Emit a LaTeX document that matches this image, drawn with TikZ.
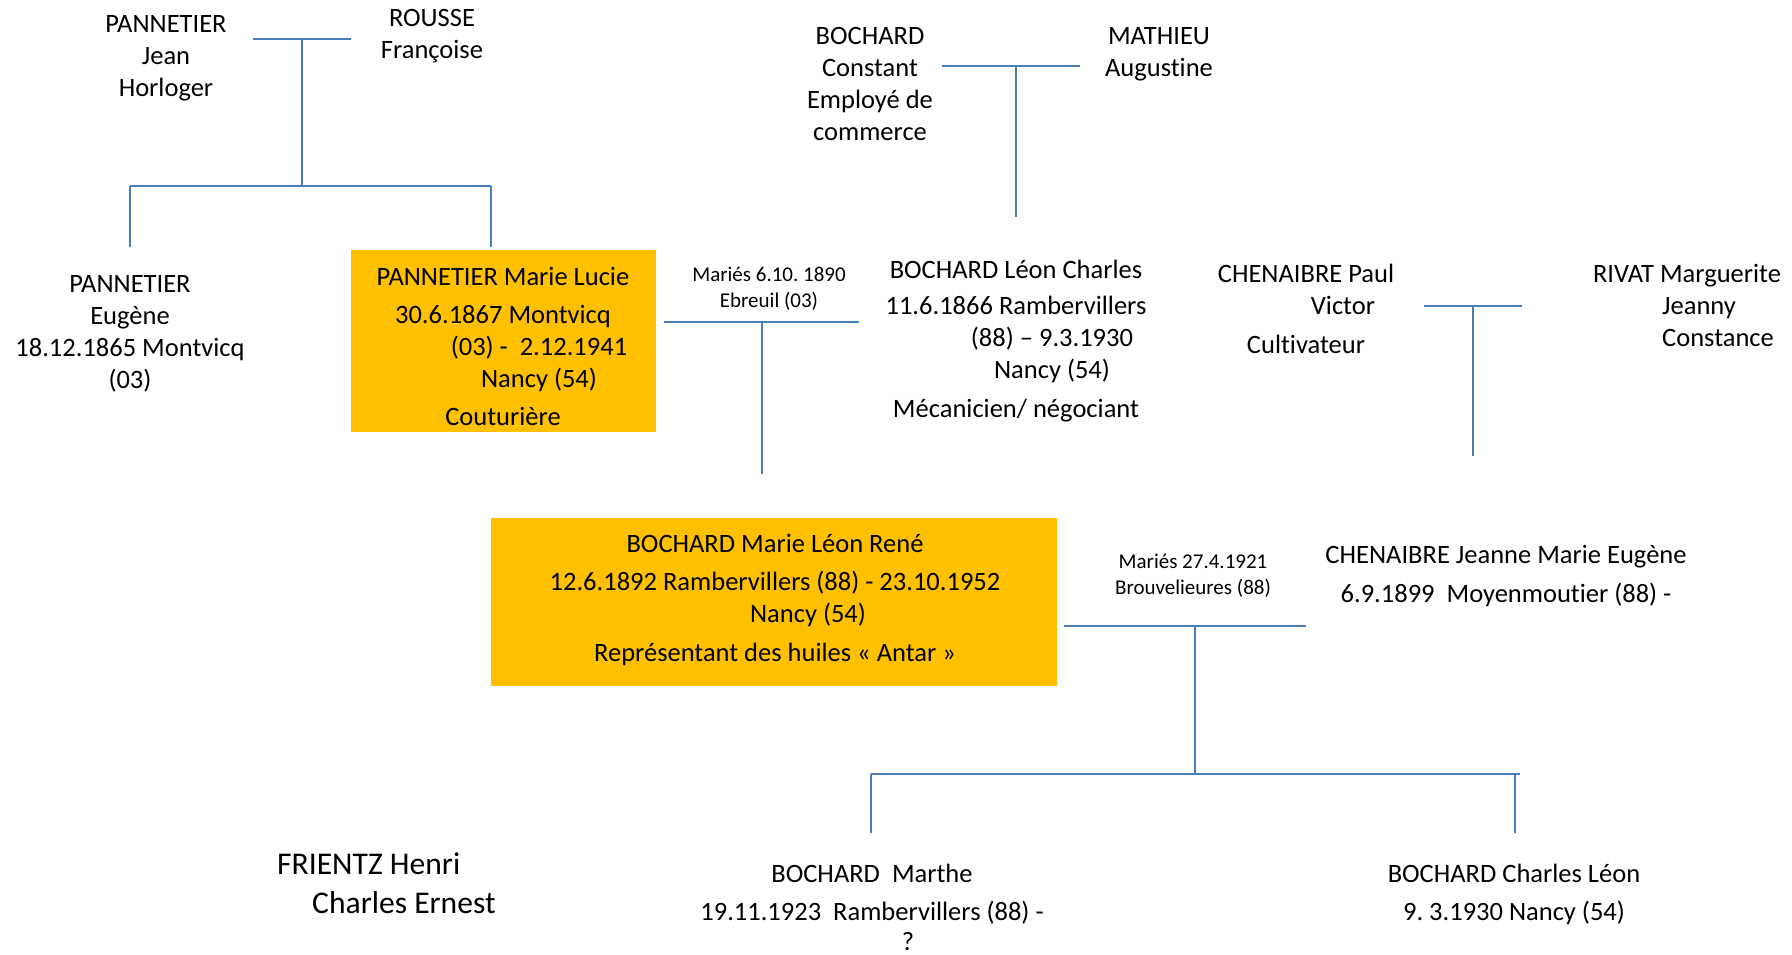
\documentclass[tikz,border=0pt]{standalone}
\usepackage{fontspec}
\setmainfont{Carlito}[Ligatures=NoCommon]
\definecolor{lienbleu}{RGB}{74,126,187}
\definecolor{boiteor}{RGB}{255,192,0}
\usetikzlibrary{positioning}

\begin{document}
\frenchspacing
\begin{tikzpicture}[x=1pt,y=-1pt,
          personne/.style={align=center,inner sep=0pt,anchor=north,font=\fontsize{26.5}{32}\selectfont},
          noce/.style={align=center,inner sep=0pt,anchor=north,font=\fontsize{21}{26}\selectfont},
          cadre/.style={fill=boiteor,draw=none,inner sep=0pt},
          lien/.style={draw=lienbleu,line width=2pt},
          fratrie/.style={draw=lienbleu,line width=2.6pt}]
        \fill[white] (0,0) rectangle (1792,954);
        \useasboundingbox (0,0) rectangle (1792,954);

        % cadres des ancetres directs
        \node[cadre,minimum width=305pt,minimum height=182pt] (cadrelucie) at (503.5,341) {};
        \node[cadre,minimum width=566pt,minimum height=168pt] (cadrerene) at (774,602) {};

        % generation des grands-parents
        \node[personne] (jean) at (166,15.5) {PANNETIER\\Jean\\Horloger};
        \node[personne] (rousse) at (432,9.5) {ROUSSE\\Françoise};
        \node[personne] (constant) at (870,27.5) {BOCHARD\\Constant\\Employé de\\commerce};
        \node[personne] (mathieu) at (1159,27.5) {MATHIEU\\Augustine};

        % generation des parents
        \node[personne] (eugene) at (130,275.5) {PANNETIER\\Eugène\\18.12.1865 Montvicq\\(03)};
        \node[personne] (lucie) at (503,267) {PANNETIER Marie Lucie\\[6pt]30.6.1867 Montvicq\\\hspace*{72pt}(03) -~ 2.12.1941\\\hspace*{72pt}Nancy (54)\\[6pt]Couturière};
        \node[noce] (noce1) at (769,267) {Mariés 6.10. 1890\\Ebreuil (03)};
        \node[personne] (leon) at (1016,260) {BOCHARD Léon Charles\\[4pt]11.6.1866 Rambervillers\\\hspace*{72pt}(88) – 9.3.1930\\\hspace*{72pt}Nancy (54)\\[7pt]Mécanicien/ négociant};
        \node[personne] (paul) at (1306,264) {CHENAIBRE Paul\\\hspace*{74pt}Victor\\[7pt]Cultivateur};
        \node[personne] (rivat) at (1687,264) {RIVAT Marguerite\\\hspace*{24pt}Jeanny\\\hspace*{62pt}Constance};

        % couple central
        \node[personne] (rene) at (775,534) {BOCHARD Marie Léon René\\[6pt]12.6.1892 Rambervillers (88) - 23.10.1952\\\hspace*{66pt}Nancy (54)\\[7pt]Représentant des huiles « Antar »};
        \node[noce] (noce2) at (1193,554) {Mariés 27.4.1921\\Brouvelieures (88)};
        \node[personne] (jeanne) at (1506,545) {CHENAIBRE Jeanne Marie Eugène\\[7pt]6.9.1899~ Moyenmoutier (88) -};

        % enfants
        \node[personne,anchor=north west,align=left,font=\fontsize{31.6}{39}\selectfont] (frientz) at (277,853) {FRIENTZ Henri\\\hspace*{35pt}Charles Ernest};
        \node[personne] (marthe) at (872,864) {BOCHARD~ Marthe\\[6pt]19.11.1923~ Rambervillers (88) -\\[-2pt]\hspace*{72pt}?};
        \node[personne] (charles) at (1514,864) {BOCHARD Charles Léon\\[6pt]9. 3.1930 Nancy (54)};

        % points des traits
        \coordinate (jeanrousseG) at (253,39);
        \coordinate (jeanrousseD) at (351,39);
        \coordinate (jeanrousseM) at (302,39);
        \coordinate (jeanrousseB) at (302,186);
        \coordinate (fratrieG) at (130,186);
        \coordinate (fratrieD) at (491,186);
        \coordinate (versEugene) at (130,247);
        \coordinate (versLucie) at (491,247);
        \coordinate (constantG) at (942,66);
        \coordinate (constantD) at (1080,66);
        \coordinate (constantM) at (1016,66);
        \coordinate (versLeon) at (1016,217);
        \coordinate (noce1G) at (664,322);
        \coordinate (noce1D) at (859,322);
        \coordinate (noce1M) at (762,322);
        \coordinate (versRene) at (762,474);
        \coordinate (paulG) at (1424,306);
        \coordinate (paulD) at (1522,306);
        \coordinate (paulM) at (1473,306);
        \coordinate (versJeanne) at (1473,456);
        \coordinate (noce2G) at (1064,626);
        \coordinate (noce2D) at (1306,626);
        \coordinate (noce2M) at (1195,626);
        \coordinate (noce2B) at (1195,774);
        \coordinate (enfantsG) at (871,774);
        \coordinate (enfantsD) at (1520,774);
        \coordinate (enfantsD2) at (1515,774);
        \coordinate (versMarthe) at (871,833);
        \coordinate (versCharles) at (1515,833);

        \draw[lien] (jeanrousseG) -- (jeanrousseD);
        \draw[lien] (jeanrousseM) -- (jeanrousseB);
        \draw[lien] (fratrieG) -- (fratrieD);
        \draw[lien] (fratrieG) -- (versEugene);
        \draw[lien] (fratrieD) -- (versLucie);
        \draw[lien] (constantG) -- (constantD);
        \draw[lien] (constantM) -- (versLeon);
        \draw[lien] (noce1G) -- (noce1D);
        \draw[lien] (noce1M) -- (versRene);
        \draw[lien] (paulG) -- (paulD);
        \draw[lien] (paulM) -- (versJeanne);
        \draw[lien] (noce2G) -- (noce2D);
        \draw[lien] (noce2M) -- (noce2B);
        \draw[fratrie] (enfantsG) -- (enfantsD);
        \draw[lien] (enfantsG) -- (versMarthe);
        \draw[lien] (enfantsD2) -- (versCharles);
\end{tikzpicture}
\end{document}
